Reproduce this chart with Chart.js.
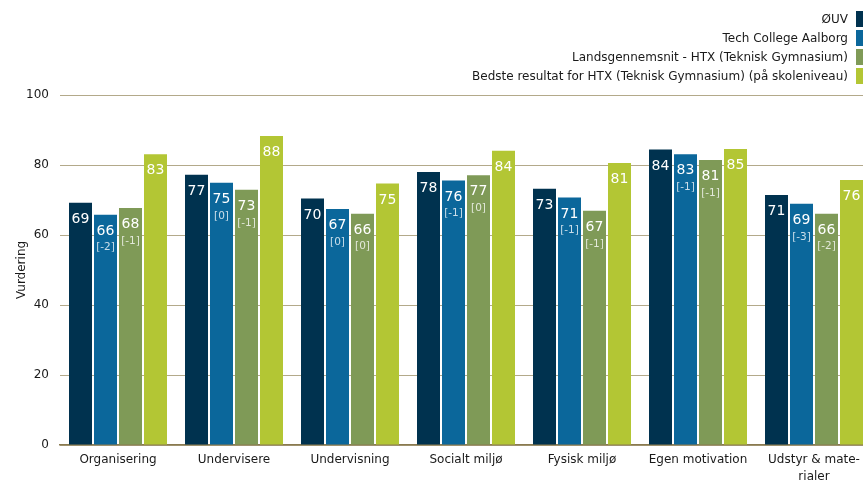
<!DOCTYPE html>
<html>
<head>
<meta charset="utf-8">
<script src="https://cdn.jsdelivr.net/npm/chart.js@4.4.1/dist/chart.umd.min.js"></script>
<style>
  html, body { margin: 0; padding: 0; background: #fff; overflow: hidden; width: 863px; height: 480px; }
  #wrap { position: absolute; left: 0; top: 0; width: 872px; height: 480px; }
  #legend { position: absolute; right: 0; top: 10px; width: 863px; font-family: "DejaVu Sans", sans-serif; font-size: 12px; color: #1a1a1a; }
  .leg-row { position: relative; height: 19px; }
  .leg-row span { position: absolute; right: 15px; top: 0; line-height: 18px; white-space: nowrap; }
  .leg-row i { position: absolute; left: 856px; top: 1px; width: 10px; height: 16px; }
</style>
</head>
<body>
<div id="wrap"><canvas id="chart" width="872" height="480"></canvas></div>
<div id="legend"></div>
<script>
// categories and series
const categories = ['Organisering', 'Undervisere', 'Undervisning', 'Socialt miljø', 'Fysisk miljø', 'Egen motivation', ['Udstyr & mate-', 'rialer']];
const seriesNames = ['ØUV', 'Tech College Aalborg', 'Landsgennemsnit - HTX (Teknisk Gymnasium)', 'Bedste resultat for HTX (Teknisk Gymnasium) (på skoleniveau)'];
const ouv = [69.2, 77.2, 70.4, 78.0, 73.2, 84.4, 71.4];
const techCollege = [65.8, 74.9, 67.4, 75.6, 70.7, 83.1, 68.9];
const landsgennemsnit = [67.7, 72.9, 66.1, 77.1, 66.9, 81.4, 66.1];
const bedste = [83.1, 88.3, 74.7, 84.1, 80.6, 84.6, 75.7];
// change since last time, shown in brackets
const techDiff = [-2, 0, 0, -1, -1, -1, -3];
const landsDiff = [-1, -1, 0, 0, -1, -1, -2];
const yTicks = [0, 20, 40, 60, 80, 100];

const colors = ['#00324f', '#0b679b', '#7f9a57', '#b3c634'];
const diffs = [null, techDiff, landsDiff, null];

// HTML legend, stacked at top right
const legendEl = document.getElementById('legend');
seriesNames.forEach((name, i) => {
    const row = document.createElement('div');
    row.className = 'leg-row';
    row.innerHTML = '<span></span><i></i>';
    row.querySelector('span').textContent = name;
    row.querySelector('i').style.background = colors[i];
    legendEl.appendChild(row);
});

const barLabels = {
    id: 'barLabels',
    afterDatasetsDraw(chart) {
        const ctx = chart.ctx;
        ctx.save();
        ctx.textAlign = 'center';
        ctx.textBaseline = 'middle';
        chart.data.datasets.forEach((ds, di) => {
            const meta = chart.getDatasetMeta(di);
            meta.data.forEach((bar, i) => {
                ctx.fillStyle = '#ffffff';
                ctx.font = '14px "DejaVu Sans"';
                ctx.fillText(String(Math.round(ds.data[i])), bar.x, bar.y + 16.5);
                if (diffs[di]) {
                    ctx.fillStyle = 'rgba(255,255,255,0.78)';
                    ctx.font = '10.5px "DejaVu Sans"';
                    ctx.fillText('[' + diffs[di][i] + ']', bar.x, bar.y + 33);
                }
            });
        });
        ctx.restore();
    }
};

const seriesData = [ouv, techCollege, landsgennemsnit, bedste];

new Chart(document.getElementById('chart'), {
    type: 'bar',
    data: {
        labels: categories,
        datasets: seriesData.map((d, i) => ({
            label: seriesNames[i],
            data: d,
            backgroundColor: colors[i],
            categoryPercentage: 0.862,
            barPercentage: 0.92
        }))
    },
    options: {
        responsive: false,
        animation: false,
        layout: { padding: { top: 95, left: 0, right: 0, bottom: 0 } },
        plugins: { legend: { display: false }, tooltip: { enabled: false } },
        scales: {
            x: {
                grid: { display: false, drawTicks: false },
                border: { display: true, color: '#8a7a50', width: 1.5 },
                ticks: { color: '#1a1a1a', padding: 6, maxRotation: 0, autoSkip: false, font: { family: 'DejaVu Sans', size: 12, lineHeight: 1.45 } },
                afterFit: (s) => { s.height = 35; }
            },
            y: {
                min: 0, max: 100,
                afterBuildTicks: (s) => { s.ticks = yTicks.map(v => ({ value: v })); },
                grid: { color: '#b3a98a', lineWidth: 1, drawTicks: false },
                border: { display: false },
                ticks: { color: '#1a1a1a', padding: 11, font: { family: 'DejaVu Sans', size: 12 } },
                title: { display: true, text: 'Vurdering', color: '#1a1a1a', padding: { top: 15, bottom: 0 }, font: { family: 'DejaVu Sans', size: 12 } },
                afterFit: (s) => { s.width = 60; }
            }
        }
    },
    plugins: [barLabels]
});
</script>
</body>
</html>
